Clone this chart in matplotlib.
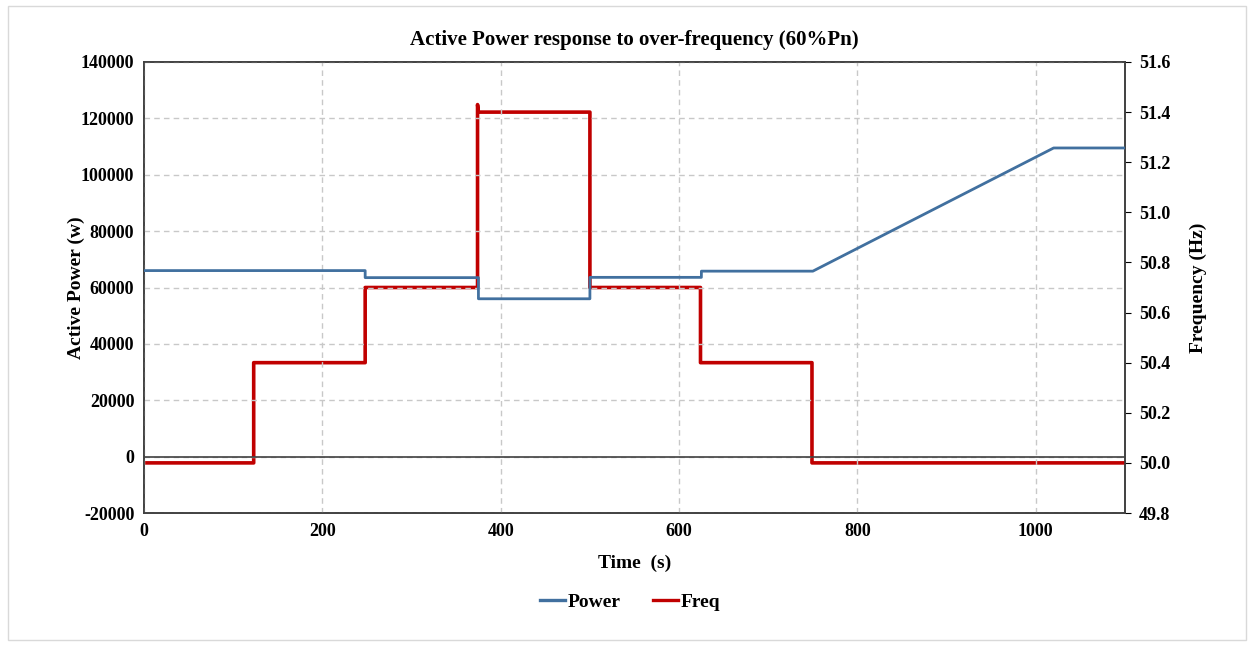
import matplotlib
matplotlib.use('Agg')
import matplotlib.pyplot as plt
from matplotlib.patches import Rectangle
from matplotlib.lines import Line2D

plt.rcParams['font.family'] = ['Liberation Serif', 'DejaVu Serif']
plt.rcParams['font.weight'] = 'bold'

# 数据：有功功率 (W) 与频率 (Hz)
power_t = [0, 248, 248, 375, 375, 500, 500, 625, 625, 750, 1020, 1100]
power_w = [66000, 66000, 63500, 63500, 56000, 56000, 63600, 63600,
           65800, 65800, 109500, 109500]

freq_t = [0, 123, 123, 248, 248, 374, 374, 375, 500, 500, 624, 624, 749, 749, 1100]
freq_hz = [50.0, 50.0, 50.4, 50.4, 50.7, 50.7, 51.43, 51.4, 51.4, 50.7, 50.7,
           50.4, 50.4, 50.0, 50.0]

x_ticks = [0, 200, 400, 600, 800, 1000]
p_ticks = [-20000, 0, 20000, 40000, 60000, 80000, 100000, 120000, 140000]
f_ticks = [49.8, 50.0, 50.2, 50.4, 50.6, 50.8, 51.0, 51.2, 51.4, 51.6]

C_POWER = '#41709F'
C_FREQ = '#C00000'

fig = plt.figure(figsize=(12.54, 6.46), dpi=100)
fig.patches.append(Rectangle((8 / 1254, 6 / 646), 1238 / 1254, 634 / 646,
                             transform=fig.transFigure, fill=False,
                             edgecolor='#D9D9D9', linewidth=1))

ax = fig.add_axes([144 / 1254, 1 - 513 / 646, 981 / 1254, 451 / 646])
ax2 = ax.twinx()

ax.set_xlim(0, 1100)
ax.set_ylim(-20000, 140000)
ax2.set_ylim(49.8, 51.6)

ax.set_xticks(x_ticks)
ax.set_yticks(p_ticks)
ax2.set_yticks(f_ticks)
ax.set_yticklabels([str(v) for v in p_ticks])
ax2.set_yticklabels([f'{v:.1f}' for v in f_ticks])

ax.grid(True, color='#C8C8C8', linestyle=(0, (4, 3)), linewidth=1)
ax.axhline(0, color='#404040', linewidth=1.2, zorder=2)

ax2.plot(freq_t, freq_hz, color=C_FREQ, linewidth=2.6, zorder=3)
ax.plot(power_t, power_w, color=C_POWER, linewidth=2, zorder=4)
ax.set_zorder(ax2.get_zorder() + 1)
ax.patch.set_visible(False)

for a in (ax, ax2):
    for s in a.spines.values():
        s.set_color('#404040')
        s.set_linewidth(1.2)

ax.tick_params(axis='both', length=0, labelsize=13, pad=7)
ax2.tick_params(axis='y', length=4, direction='out', labelsize=13, pad=6)

ax.set_title('Active Power response to over-frequency (60%Pn)',
             fontsize=15, fontweight='bold', pad=12)
ax.set_xlabel('Time  (s)', fontsize=14, fontweight='bold', labelpad=11)
ax.set_ylabel('Active Power (w)', fontsize=14, fontweight='bold', labelpad=-3)
ax2.set_ylabel('Frequency (Hz)', fontsize=14, fontweight='bold', labelpad=14)

handles = [Line2D([], [], color=C_POWER, linewidth=2.4),
           Line2D([], [], color=C_FREQ, linewidth=2.4)]
fig.legend(handles, ['Power', 'Freq'], loc='center',
           bbox_to_anchor=(630 / 1254, 1 - 602 / 646),
           ncol=2, frameon=False, handlelength=1.3, handletextpad=0.1,
           columnspacing=1.7, prop={'weight': 'bold', 'size': 14})

fig.savefig('out.png', dpi=100, facecolor='white')
